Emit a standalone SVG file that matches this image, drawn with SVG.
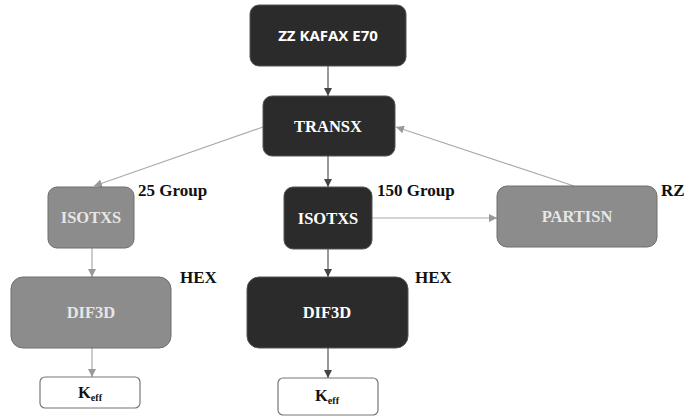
<svg xmlns="http://www.w3.org/2000/svg" width="687" height="418" viewBox="0 0 687 418">
<style>
.dark{fill:#2b2b2b;stroke:#555;stroke-width:1}
.grey{fill:#8c8c8c;stroke:#6e6e6e;stroke-width:1}
.white{fill:#fff;stroke:#777;stroke-width:1.2}
.t{font-family:"Liberation Serif",serif;font-weight:bold;font-size:16.5px;text-anchor:middle}
.tw{fill:#fff}
.tg{fill:#e6e6e6}
.lbl{font-family:"Liberation Serif",serif;font-weight:bold;font-size:17px;fill:#111}
.cd{stroke:#555;stroke-width:1.2;fill:none;marker-end:url(#ad)}
.cg{stroke:#aaa;stroke-width:1.2;fill:none;marker-end:url(#ag)}
</style>
<defs>
<marker id="ad" viewBox="0 0 10 10" refX="10" refY="5" markerWidth="8" markerHeight="8" markerUnits="userSpaceOnUse" orient="auto"><path d="M0,0L10,5L0,10z" fill="#444"/></marker>
<marker id="ag" viewBox="0 0 10 10" refX="10" refY="5" markerWidth="8" markerHeight="8" markerUnits="userSpaceOnUse" orient="auto"><path d="M0,0L10,5L0,10z" fill="#999"/></marker>
</defs>
<rect width="687" height="418" fill="#fff"/>
<g id="connectors">
<line class="cd" x1="328" y1="66" x2="328" y2="96"/>
<line class="cd" x1="328" y1="156" x2="328" y2="187"/>
<line class="cd" x1="328" y1="249" x2="328" y2="277"/>
<line class="cd" x1="328" y1="348" x2="328" y2="378"/>
<line class="cg" x1="263" y1="127" x2="94" y2="186"/>
<line class="cg" x1="92" y1="248" x2="92" y2="277"/>
<line class="cg" x1="92" y1="348" x2="92" y2="377"/>
<line class="cg" x1="372" y1="218" x2="497" y2="218"/>
<line class="cg" x1="574" y1="186" x2="396" y2="127"/>
</g>
<g id="kafax"><rect class="dark" x="250" y="5" width="156" height="61" rx="9"/><text x="328" y="41" style="font-family:'Open Sans','Noto Sans',sans-serif;font-weight:bold;font-size:15px;text-anchor:middle;fill:#fff">ZZ KAFAX E70</text></g>
<g id="transx"><rect class="dark" x="263" y="96" width="132" height="60" rx="9"/><text class="t tw" x="328" y="132">TRANSX</text></g>
<g id="isotxs25"><rect class="grey" x="48" y="187" width="86" height="61" rx="9"/><text class="t tg" x="91" y="223">ISOTXS</text></g>
<g id="lbl25"><text class="lbl" x="138" y="196">25 Group</text></g>
<g id="dif3d-left"><rect class="grey" x="11" y="277" width="160" height="71" rx="12"/><text class="t tg" x="91" y="318">DIF3D</text></g>
<g id="hex-left"><text class="lbl" x="180" y="283">HEX</text></g>
<g id="keff-left"><rect class="white" x="40" y="377" width="100" height="31" rx="5"/><text class="t" x="90" y="398" fill="#111">K<tspan font-size="10" dy="3">eff</tspan></text></g>
<g id="isotxs150"><rect class="dark" x="284" y="187" width="88" height="62" rx="9"/><text class="t tw" x="328" y="224">ISOTXS</text></g>
<g id="lbl150"><text class="lbl" x="377" y="196">150 Group</text></g>
<g id="dif3d-mid"><rect class="dark" x="247" y="277" width="161" height="71" rx="12"/><text class="t tw" x="327" y="318">DIF3D</text></g>
<g id="hex-mid"><text class="lbl" x="415" y="283">HEX</text></g>
<g id="keff-mid"><rect class="white" x="278" y="378" width="100" height="37" rx="5"/><text class="t" x="327" y="401" fill="#111">K<tspan font-size="10" dy="3">eff</tspan></text></g>
<g id="partisn"><rect class="grey" x="497" y="186" width="160" height="61" rx="10"/><text class="t tg" x="577" y="222">PARTISN</text></g>
<g id="rz"><text class="lbl" x="661" y="196">RZ</text></g>
</svg>
